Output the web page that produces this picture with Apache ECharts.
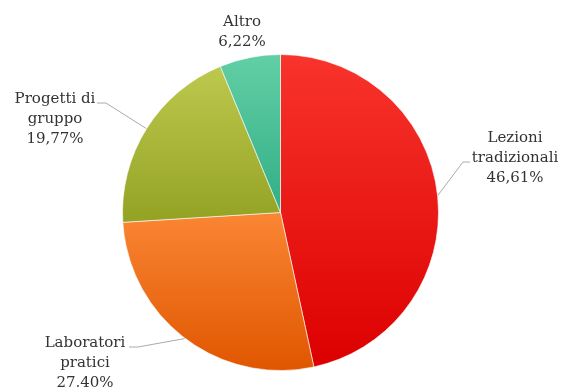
<!DOCTYPE html>
<html>
<head>
<meta charset="utf-8">
<script src="https://cdn.jsdelivr.net/npm/echarts@6/dist/echarts.min.js"></script>
<style>
  html, body { margin: 0; padding: 0; background: #ffffff; }
  #chart { width: 563px; height: 387px; }
</style>
</head>
<body>
<div id="chart"></div>
<script>
// Teaching methods share (percent), clockwise from 12 o'clock
const categories = ['Lezioni\ntradizionali', 'Laboratori\npratici', 'Progetti di\ngruppo', 'Altro'];
const shares = [46.61, 27.40, 19.77, 6.22];

// Vertical gradient per slice: [top, bottom]
const sliceColors = [
  ['#f8342c', '#dc0000'],
  ['#fa8634', '#e05600'],
  ['#bcc94e', '#94a224'],
  ['#62cfa5', '#32ae87']
];

// Where each label block is centred, and the elbow/end of its leader line
const labelSpots = [
  { x: 515, y: 158, bend: [463, 162], end: [470, 162] },
  { x: 85,  y: 363, bend: [138, 347], end: [129, 347] },
  { x: 55,  y: 119, bend: [106, 103], end: [97, 103] },
  { x: 242, y: 32,  bend: null, end: null }
];

const fmt = v => v.toFixed(2).replace('.', ',') + '%';

const chart = echarts.init(document.getElementById('chart'), null, { renderer: 'canvas' });

chart.setOption({
  animation: false,
  series: [{
    type: 'pie',
    center: [280.5, 212.5],
    radius: 158,
    startAngle: 90,
    clockwise: true,
    avoidLabelOverlap: false,
    itemStyle: { borderColor: '#ffffff', borderWidth: 0.6 },
    label: {
      show: true,
      position: 'outside',
      color: '#333333',
      fontFamily: 'DejaVu Serif',
      fontSize: 15,
      lineHeight: 20,
      align: 'center',
      formatter: p => p.name + '\n' + fmt(p.value)
    },
    labelLine: {
      show: true,
      length: 20,
      length2: 10,
      lineStyle: { color: '#aaaaaa', width: 1 }
    },
    labelLayout: function (params) {
      const spot = labelSpots[params.dataIndex];
      const out = { x: spot.x, y: spot.y, align: 'center', verticalAlign: 'middle' };
      if (spot.bend && params.labelLinePoints) {
        const start = params.labelLinePoints[0];
        out.labelLinePoints = [start, spot.bend, spot.end];
      }
      return out;
    },
    data: categories.map((name, i) => ({
      name: name,
      value: shares[i],
      labelLine: { show: labelSpots[i].bend !== null },
      itemStyle: {
        color: new echarts.graphic.LinearGradient(0, 0, 0, 1, [
          { offset: 0, color: sliceColors[i][0] },
          { offset: 1, color: sliceColors[i][1] }
        ])
      }
    }))
  }]
});
</script>
</body>
</html>
